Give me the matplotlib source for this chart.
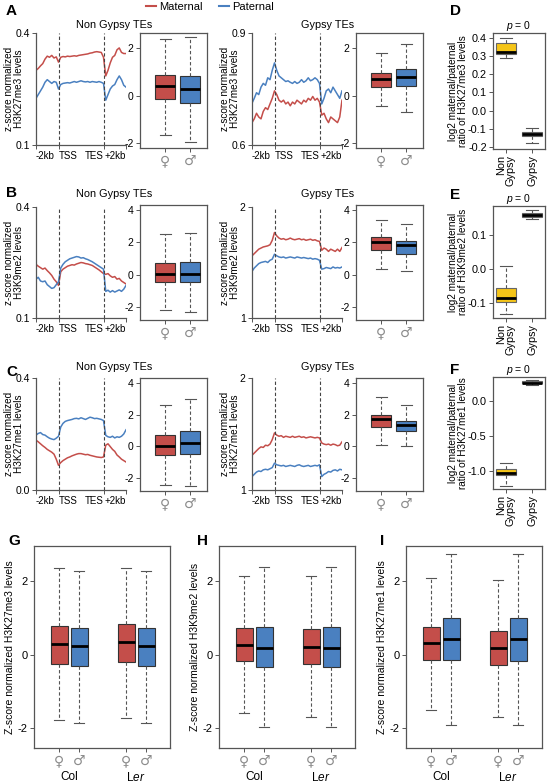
import matplotlib
matplotlib.use("Agg")
import matplotlib.pyplot as plt
from matplotlib.lines import Line2D
import numpy as np

plt.rcParams['font.family'] = ['Liberation Sans', 'DejaVu Sans']
plt.rcParams['mathtext.fontset'] = 'custom'
plt.rcParams['mathtext.rm'] = 'Liberation Sans'
plt.rcParams['mathtext.it'] = 'Liberation Sans:italic'

RED = "#C44E4A"
BLUE = "#4A80C0"
YELLOW = "#F5C518"
GREY = "#A8A8A8"
FRAME = "#555555"

# ── Metaplot profiles (41 bins: -2kb .. TSS(10) .. TES(30) .. +2kb) ─────────
A1_MAT = [0.300, 0.305, 0.312, 0.318, 0.330, 0.338, 0.335, 0.340, 0.333, 0.336, 0.322,
          0.335, 0.337, 0.336, 0.338, 0.337, 0.338, 0.339, 0.338, 0.340, 0.341, 0.342,
          0.343, 0.344, 0.346, 0.347, 0.349, 0.350, 0.349, 0.348, 0.335, 0.285, 0.300,
          0.320, 0.335, 0.340, 0.355, 0.360, 0.348, 0.345, 0.345]
A1_PAT = [0.225, 0.235, 0.245, 0.255, 0.268, 0.275, 0.270, 0.265, 0.270, 0.268, 0.250,
          0.262, 0.265, 0.266, 0.267, 0.266, 0.268, 0.270, 0.268, 0.270, 0.272, 0.270,
          0.269, 0.270, 0.268, 0.270, 0.269, 0.268, 0.270, 0.268, 0.265, 0.220, 0.235,
          0.250, 0.258, 0.262, 0.275, 0.285, 0.275, 0.260, 0.255]
A2_MAT = [0.660, 0.670, 0.685, 0.675, 0.670, 0.690, 0.700, 0.695, 0.710, 0.725, 0.745,
          0.735, 0.720, 0.715, 0.720, 0.710, 0.715, 0.705, 0.715, 0.710, 0.720, 0.715,
          0.710, 0.720, 0.715, 0.725, 0.720, 0.730, 0.720, 0.725, 0.715, 0.680, 0.685,
          0.670, 0.660, 0.675, 0.670, 0.665, 0.660, 0.675, 0.720]
A2_PAT = [0.712, 0.725, 0.740, 0.735, 0.755, 0.765, 0.760, 0.780, 0.775, 0.800, 0.820,
          0.800, 0.785, 0.780, 0.775, 0.770, 0.772, 0.768, 0.765, 0.770, 0.765, 0.768,
          0.775, 0.768, 0.772, 0.780, 0.772, 0.775, 0.780, 0.775, 0.765, 0.710, 0.725,
          0.745, 0.750, 0.740, 0.755, 0.745, 0.735, 0.725, 0.745]
B1_MAT = [0.245, 0.240, 0.236, 0.232, 0.235, 0.228, 0.222, 0.215, 0.205, 0.198, 0.188,
          0.225, 0.232, 0.236, 0.240, 0.242, 0.244, 0.243, 0.246, 0.248, 0.250, 0.249,
          0.247, 0.246, 0.244, 0.242, 0.238, 0.234, 0.230, 0.225, 0.220, 0.218, 0.220,
          0.214, 0.210, 0.212, 0.205, 0.207, 0.200, 0.196, 0.192]
B1_PAT = [0.205, 0.210, 0.200, 0.198, 0.200, 0.190, 0.185, 0.180, 0.182, 0.190, 0.198,
          0.235, 0.245, 0.252, 0.256, 0.260, 0.262, 0.264, 0.266, 0.265, 0.262, 0.263,
          0.260, 0.258, 0.255, 0.252, 0.248, 0.244, 0.240, 0.236, 0.232, 0.172, 0.175,
          0.170, 0.174, 0.170, 0.173, 0.176, 0.172, 0.178, 0.188]
B2_MAT = [1.56, 1.58, 1.60, 1.62, 1.63, 1.64, 1.645, 1.65, 1.66, 1.70, 1.77,
          1.74, 1.72, 1.71, 1.715, 1.705, 1.71, 1.72, 1.71, 1.705, 1.71, 1.715,
          1.705, 1.71, 1.70, 1.705, 1.71, 1.70, 1.705, 1.695, 1.69, 1.61, 1.63,
          1.62, 1.60, 1.62, 1.61, 1.60, 1.62, 1.60, 1.635]
B2_PAT = [1.42, 1.45, 1.47, 1.49, 1.50, 1.505, 1.51, 1.50, 1.52, 1.53, 1.575,
          1.56, 1.55, 1.545, 1.55, 1.54, 1.545, 1.55, 1.545, 1.54, 1.55, 1.545,
          1.54, 1.545, 1.54, 1.535, 1.54, 1.53, 1.535, 1.53, 1.52, 1.44, 1.445,
          1.455, 1.45, 1.445, 1.46, 1.45, 1.455, 1.45, 1.46]
C1_MAT = [0.178, 0.172, 0.165, 0.158, 0.152, 0.145, 0.140, 0.135, 0.128, 0.110, 0.088,
          0.098, 0.105, 0.110, 0.115, 0.118, 0.122, 0.125, 0.128, 0.130, 0.130, 0.128,
          0.126, 0.127, 0.124, 0.122, 0.120, 0.118, 0.117, 0.116, 0.118, 0.160, 0.165,
          0.155, 0.145, 0.138, 0.125, 0.118, 0.110, 0.105, 0.100]
C1_PAT = [0.196, 0.202, 0.205, 0.198, 0.196, 0.190, 0.185, 0.182, 0.180, 0.185, 0.192,
          0.225, 0.238, 0.245, 0.248, 0.250, 0.252, 0.255, 0.256, 0.254, 0.258, 0.255,
          0.252, 0.256, 0.260, 0.258, 0.255, 0.256, 0.254, 0.252, 0.248, 0.195, 0.190,
          0.188, 0.192, 0.186, 0.190, 0.188, 0.192, 0.200, 0.215]
C2_MAT = [1.31, 1.33, 1.35, 1.37, 1.385, 1.38, 1.40, 1.395, 1.41, 1.45, 1.51,
          1.49, 1.48, 1.485, 1.47, 1.48, 1.475, 1.47, 1.48, 1.47, 1.475, 1.48,
          1.47, 1.475, 1.465, 1.47, 1.475, 1.47, 1.465, 1.47, 1.465, 1.42, 1.41,
          1.405, 1.41, 1.40, 1.41, 1.405, 1.395, 1.40, 1.43]
C2_PAT = [1.12, 1.14, 1.16, 1.17, 1.165, 1.18, 1.185, 1.18, 1.19, 1.20, 1.24,
          1.225, 1.22, 1.215, 1.22, 1.21, 1.215, 1.22, 1.215, 1.21, 1.22, 1.225,
          1.215, 1.21, 1.215, 1.22, 1.21, 1.215, 1.22, 1.215, 1.225, 1.12, 1.14,
          1.15, 1.165, 1.16, 1.175, 1.18, 1.17, 1.185, 1.18]

# ── Box stats: [whisker low, Q1, median, Q3, whisker high] ──────────────────
A1_BOX = [[-1.65, -0.15, 0.40, 0.87, 2.40], [-1.95, -0.30, 0.30, 0.85, 2.50]]
A2_BOX = [[-0.43, 0.39, 0.70, 0.96, 1.79], [-0.67, 0.43, 0.79, 1.14, 2.19]]
B1_BOX = [[-2.20, -0.47, 0.05, 0.70, 2.50], [-2.30, -0.45, 0.05, 0.80, 2.60]]
B2_BOX = [[0.35, 1.50, 2.00, 2.30, 3.40], [0.25, 1.30, 1.80, 2.05, 3.10]]
C1_BOX = [[-2.40, -0.55, 0.02, 0.70, 2.60], [-2.50, -0.45, 0.20, 0.95, 3.00]]
C2_BOX = [[0.10, 1.20, 1.70, 1.95, 3.10], [0.00, 1.00, 1.35, 1.60, 2.60]]

D_RATIO = [[0.29, 0.31, 0.325, 0.37, 0.40], [-0.18, -0.14, -0.13, -0.12, -0.095]]
E_RATIO = [[-0.133, -0.098, -0.085, -0.055, 0.01], [0.147, 0.152, 0.160, 0.165, 0.173]]
F_RATIO = [[-1.22, -1.06, -1.03, -0.97, -0.89], [0.23, 0.25, 0.26, 0.28, 0.30]]

# Col ♀, Col ♂, Ler ♀, Ler ♂
G_BOX = [[-1.79, -0.245, 0.29, 0.79, 2.36], [-1.88, -0.32, 0.23, 0.73, 2.29],
         [-1.73, -0.20, 0.34, 0.84, 2.36], [-1.88, -0.32, 0.23, 0.73, 2.29]]
H_BOX = [[-1.59, -0.18, 0.27, 0.73, 2.15], [-1.98, -0.33, 0.18, 0.75, 2.39],
         [-1.70, -0.26, 0.22, 0.71, 2.15], [-1.98, -0.33, 0.18, 0.75, 2.39]]
I_BOX = [[-1.50, -0.14, 0.32, 0.76, 2.10], [-1.91, -0.14, 0.43, 1.00, 2.76],
         [-1.69, -0.29, 0.18, 0.65, 2.05], [-1.93, -0.16, 0.43, 0.99, 2.76]]

MARKS = ["H3K27me3", "H3K9me2", "H3K27me1"]
SEX = ["\u2640", "\u2642"]

W, H = 548, 783
fig = plt.figure(figsize=(W / 100, H / 100), dpi=100)


def px_axes(x0, y0, x1, y1):
    return fig.add_axes([x0 / W, 1 - y1 / H, (x1 - x0) / W, (y1 - y0) / H])


def frame(ax, size=7.5):
    for s in ax.spines.values():
        s.set_color(FRAME)
        s.set_linewidth(0.9)
    ax.tick_params(length=3, width=0.7, color=FRAME, labelsize=size, pad=1.5)


def sex_labels(ax):
    for lab in ax.get_xticklabels():
        lab.set_color("#8C8C8C")
        lab.set_fontsize(10)
        lab.set_family("DejaVu Sans")


def draw_boxes(ax, rows, colors, positions, width, edge="#333333"):
    stats = [dict(whislo=r[0], q1=r[1], med=r[2], q3=r[3], whishi=r[4], fliers=[])
             for r in rows]
    art = ax.bxp(stats, positions=positions, widths=width, capwidths=width * 0.55,
                 patch_artist=True, showfliers=False,
                 boxprops=dict(edgecolor=edge, linewidth=0.8),
                 medianprops=dict(color="black", linewidth=2.0),
                 whiskerprops=dict(color="#555555", linewidth=0.8, linestyle=(0, (3, 2))),
                 capprops=dict(color="#555555", linewidth=0.8))
    for patch, c in zip(art["boxes"], colors):
        patch.set_facecolor(c)


def profile(ax, mat, pat, ylim, ylabels, mark):
    bins = np.arange(len(mat))
    ax.plot(bins, mat, color=RED, lw=1.1)
    ax.plot(bins, pat, color=BLUE, lw=1.1)
    for b in (10, 30):
        ax.axvline(b, color="#444444", lw=0.8, ls=(0, (3, 2)))
    ax.set_xlim(0, len(mat) - 1)
    ax.set_ylim(*ylim)
    ax.set_xticks([0, 10, 30, 40], ["-2kb", "TSS", "TES", "+2kb"])
    for lab, ha in zip(ax.get_xticklabels(), ["left", "left", "right", "right"]):
        lab.set_ha(ha)
    ax.set_yticks(ylim, ylabels)
    ax.spines[["top", "right"]].set_visible(False)
    frame(ax, 7.5)
    ax.tick_params(axis="x", labelsize=7)
    bb = ax.get_position()
    fig.text(bb.x0 - 22 / W, (bb.y0 + bb.y1) / 2, f"z-score normalized\n{mark} levels",
             rotation=90, ha="center", va="center", fontsize=7.2, linespacing=1.1)


def sex_box(ax, rows, ylim, yticks):
    draw_boxes(ax, rows, [RED, BLUE], [1, 2], 0.8)
    ax.set_xlim(0, 2.68)
    ax.set_ylim(*ylim)
    ax.set_yticks(yticks, [str(t) for t in yticks])
    ax.set_xticks([1, 2], SEX)
    frame(ax)
    sex_labels(ax)


def ratio_box(ax, rows, ylim, yticks, mark):
    draw_boxes(ax, rows, [YELLOW, GREY], [1, 2], 0.8, edge="#666666")
    ax.set_xlim(0.5, 2.5)
    ax.set_ylim(*ylim)
    ax.set_yticks(yticks, [f"{t:.1f}" for t in yticks])
    ax.set_xticks([1, 2], ["Non\nGypsy", "Gypsy"], rotation=90,
                  ha="center", va="top", multialignment="right")
    frame(ax, 7.8)
    for lab in ax.get_xticklabels():
        lab.set_linespacing(0.9)
    ax.set_title(r"$p$ = 0", fontsize=7.5, pad=2)
    bb = ax.get_position()
    fig.text(bb.x0 - 35 / W, (bb.y0 + bb.y1) / 2,
             f"log2 maternal/paternal\nratio of {mark} levels",
             rotation=90, ha="center", va="center", fontsize=7.2, linespacing=1.05)


rows = [
    (A1_MAT, A1_PAT, A2_MAT, A2_PAT, A1_BOX, A2_BOX, D_RATIO,
     (0.1, 0.4), ["0.1", "0.4"], (0.6, 0.9), ["0.6", "0.9"],
     (-2.2, 2.65), [-2, 0, 2], (-0.211, 0.427), [-0.2, -0.1, 0.0, 0.1, 0.2, 0.3, 0.4],
     (33, 145), (33, 148), (33, 149), 25),
    (B1_MAT, B1_PAT, B2_MAT, B2_PAT, B1_BOX, B2_BOX, E_RATIO,
     (0.1, 0.4), ["0.1", "0.4"], (1, 2), ["1", "2"],
     (-2.8, 4.3), [-2, 0, 2, 4], (-0.144, 0.185), [-0.1, 0.0, 0.1],
     (207, 318), (205, 320), (206, 318), 194),
    (C1_MAT, C1_PAT, C2_MAT, C2_PAT, C1_BOX, C2_BOX, F_RATIO,
     (0.0, 0.4), ["0.0", "0.4"], (1, 2), ["1", "2"],
     (-2.8, 4.3), [-2, 0, 2, 4], (-1.26, 0.34), [-1.0, -0.5, 0.0],
     (378, 490), (378, 491), (377, 489), 367),
]

for i, r in enumerate(rows):
    (m1, p1, m2, p2, b1, b2, rat, yl1, ytl1, yl2, ytl2,
     ylb, ytb, ylr, ytr, py, by, ry, ty) = r
    mark = MARKS[i]
    profile(px_axes(36, py[0], 126, py[1]), m1, p1, yl1, ytl1, mark)
    sex_box(px_axes(140, by[0], 207, by[1]), b1, ylb, ytb)
    profile(px_axes(252, py[0], 342, py[1]), m2, p2, yl2, ytl2, mark)
    sex_box(px_axes(356, by[0], 423, by[1]), b2, ylb, ytb)
    ratio_box(px_axes(493, ry[0], 545, ry[1]), rat, ylr, ytr, mark)
    fig.text(114 / W, 1 - ty / H, "Non Gypsy TEs", ha="center", va="center", fontsize=7.8)
    fig.text(328 / W, 1 - ty / H, "Gypsy TEs", ha="center", va="center", fontsize=7.8)

# ── Bottom row: Col / Ler boxplots ──────────────────────────────────────────
bottom = [(G_BOX, 34, "G", 8), (H_BOX, 219, "H", 197), (I_BOX, 406, "I", 380)]
for j, (data, x0, letter, lx) in enumerate(bottom):
    ax = px_axes(x0, 546, x0 + 136, 748)
    draw_boxes(ax, data, [RED, BLUE, RED, BLUE], [1, 2, 4.35, 5.35], 0.85)
    ax.set_xlim(-0.25, 6.55)
    ax.set_ylim(-2.55, 2.97)
    ax.set_yticks([-2, 0, 2], ["-2", "0", "2"])
    ax.set_xticks([1, 2, 4.35, 5.35], SEX * 2)
    frame(ax, 8)
    sex_labels(ax)
    ax.text(1.5, -0.145, "Col", transform=ax.get_xaxis_transform(), ha="center",
            va="center", fontsize=8.5)
    ax.text(4.85, -0.145, r"L$\it{er}$", transform=ax.get_xaxis_transform(),
            ha="center", va="center", fontsize=8.5)
    bb = ax.get_position()
    fig.text(bb.x0 - 24 / W, (bb.y0 + bb.y1) / 2,
             f"Z-score normalized {MARKS[j]} levels", rotation=90,
             ha="center", va="center", fontsize=7.5)
    fig.text(lx / W, 1 - 541 / H, letter, fontsize=11, fontweight="bold",
             ha="left", va="center")

# ── Panel letters and legend ────────────────────────────────────────────────
for letter, (x, y) in {"A": (6, 11), "B": (6, 193), "C": (6, 372),
                       "D": (450, 11), "E": (450, 195), "F": (450, 370)}.items():
    fig.text(x / W, 1 - y / H, letter, fontsize=11, fontweight="bold",
             ha="left", va="center")

handles = [Line2D([], [], color=RED, lw=1.5, label="Maternal"),
           Line2D([], [], color=BLUE, lw=1.5, label="Paternal")]
fig.legend(handles=handles, loc="center", bbox_to_anchor=(210 / W, 1 - 7 / H),
           ncol=2, frameon=False, fontsize=8, handlelength=0.9,
           handletextpad=0.3, columnspacing=1.5)

fig.savefig("out.png", dpi=100)
